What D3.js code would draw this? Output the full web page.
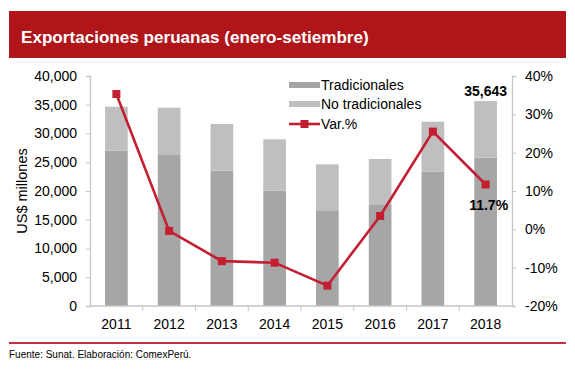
<!DOCTYPE html>
<html>
<head>
<meta charset="utf-8">
<script src="https://cdn.jsdelivr.net/npm/d3@7"></script>
<style>
  body { margin: 0; background: #fff; }
  text { font-family: "Liberation Sans", Arial, sans-serif; }
</style>
</head>
<body>
<div id="chart"></div>
<script>
/* Data ************************************************************************/

var years = ['2011', '2012', '2013', '2014', '2015', '2016', '2017', '2018'],
    tradicionales = [27010, 26260, 23530, 20050, 16520, 17570, 23360, 25790],
    no_tradicionales = [7650, 8230, 8120, 8940, 8120, 8000, 8690, 9853],
    variacion = [35.3, -0.4, -8.3, -8.7, -14.7, 3.5, 25.5, 11.7],
    left_tics = [0, 5000, 10000, 15000, 20000, 25000, 30000, 35000, 40000],
    right_tics = [-20, -10, 0, 10, 20, 30, 40];

/* Layout **********************************************************************/

var width = 575, height = 370,
    margin = { top: 76, bottom: 64, left: 90, right: 63 },
    red = '#c41e32',
    axis_color = '#c6c6c6';

var svg = d3.select('#chart').append('svg')
    .attr('width', width)
    .attr('height', height);

// header band
svg.append('rect')
    .attr('x', 9).attr('y', 11)
    .attr('width', 557).attr('height', 47)
    .attr('fill', '#b01519');

svg.append('text')
    .attr('x', 21).attr('y', 43)
    .attr('fill', '#fff')
    .attr('font-size', 17.1)
    .attr('font-weight', 'bold')
    .text('Exportaciones peruanas (enero-setiembre)');

// scales
var x = d3.scaleBand()
        .domain(years)
        .range([margin.left, width - margin.right])
        .paddingInner(0.57)
        .paddingOuter(0.285),
    xb = d3.scaleBand()
        .domain(years)
        .range([margin.left, width - margin.right]),
    y = d3.scaleLinear()
        .domain([0, 40000])
        .range([height - margin.bottom, margin.top]),
    y2 = d3.scaleLinear()
        .domain([-20, 40])
        .range([height - margin.bottom, margin.top]);

// stacked bars
var stacks = years.map((yr, i) => ({ year: yr, t: tradicionales[i], n: no_tradicionales[i] }));

svg.append('g').selectAll('rect').data(stacks).enter()
    .append('rect')
    .attr('x', d => x(d.year))
    .attr('width', x.bandwidth())
    .attr('y', d => y(d.t))
    .attr('height', d => y(0) - y(d.t))
    .attr('fill', '#a6a6a6');

svg.append('g').selectAll('rect').data(stacks).enter()
    .append('rect')
    .attr('x', d => x(d.year))
    .attr('width', x.bandwidth())
    .attr('y', d => y(d.t + d.n))
    .attr('height', d => y(d.t) - y(d.t + d.n))
    .attr('fill', '#bfbfbf');

// axes
var fmt = d3.format(',');

var yaxis = svg.append('g')
    .attr('transform', `translate(${margin.left},0)`)
    .call(d3.axisLeft(y).tickValues(left_tics).tickFormat(fmt).tickSize(4).tickPadding(9));

var y2axis = svg.append('g')
    .attr('transform', `translate(${width - margin.right},0)`)
    .call(d3.axisRight(y2).tickValues(right_tics).tickFormat(d => d + '%').tickSize(4).tickPadding(9));

var xaxis = svg.append('g')
    .attr('transform', `translate(0,${y(0)})`)
    .call(d3.axisBottom(xb).tickSize(0).tickPadding(13));

// tick marks between categories on the x axis
xaxis.selectAll('line.sep').data(years.slice(1)).enter()
    .append('line')
    .attr('class', 'sep')
    .attr('x1', d => xb(d)).attr('x2', d => xb(d))
    .attr('y1', 0).attr('y2', 5)
    .attr('stroke', axis_color);

[yaxis, y2axis, xaxis].forEach(g => {
    g.selectAll('path.domain').attr('stroke', axis_color).attr('stroke-width', 1.3);
    g.selectAll('.tick line').attr('stroke', axis_color);
    g.selectAll('text')
        .attr('font-size', 14)
        .attr('fill', '#000')
        .attr('font-family', '"Liberation Sans", Arial, sans-serif');
});
// x axis domain without the end caps
xaxis.select('path.domain')
    .attr('d', `M${margin.left},0H${width - margin.right}`);

// y label
svg.append('text')
    .attr('transform', `translate(27,${(y(0) + y(40000)) / 2}) rotate(-90)`)
    .attr('text-anchor', 'middle')
    .attr('font-size', 14.5)
    .text('US$ millones');

// line series ///////////////////////////////////////////////////////////
var pts = years.map((yr, i) => [xb(yr) + xb.bandwidth() / 2, y2(variacion[i])]);

svg.append('path')
    .attr('d', d3.line()(pts))
    .attr('fill', 'none')
    .attr('stroke', red)
    .attr('stroke-width', 2.6);

svg.append('g').selectAll('rect').data(pts).enter()
    .append('rect')
    .attr('x', d => d[0] - 4)
    .attr('y', d => d[1] - 4)
    .attr('width', 8).attr('height', 8)
    .attr('fill', red);

// data labels
var last = years.length - 1;
svg.append('text')
    .attr('x', xb(years[last]) + xb.bandwidth() / 2)
    .attr('y', y(tradicionales[last] + no_tradicionales[last]) - 5)
    .attr('text-anchor', 'middle')
    .attr('font-size', 14)
    .attr('font-weight', 'bold')
    .text(fmt(tradicionales[last] + no_tradicionales[last]));

svg.append('text')
    .attr('x', xb(years[last]) + xb.bandwidth() / 2 + 3)
    .attr('y', y2(variacion[last]) + 26)
    .attr('text-anchor', 'middle')
    .attr('font-size', 14)
    .attr('font-weight', 'bold')
    .text(variacion[last].toFixed(1) + '%');

// legend ////////////////////////////////////////////////////////////////
var legend = svg.append('g').attr('transform', 'translate(289,0)');
var legend_items = [
    { label: 'Tradicionales', color: '#a6a6a6', y: 85, kind: 'bar' },
    { label: 'No tradicionales', color: '#bfbfbf', y: 104, kind: 'bar' },
    { label: 'Var.%', color: red, y: 124, kind: 'line' }
];

legend_items.forEach(it => {
    if (it.kind === 'bar') {
        legend.append('rect')
            .attr('x', 0).attr('y', it.y - 3)
            .attr('width', 31).attr('height', 6)
            .attr('fill', it.color);
    } else {
        legend.append('line')
            .attr('x1', 0).attr('x2', 31)
            .attr('y1', it.y).attr('y2', it.y)
            .attr('stroke', it.color).attr('stroke-width', 2.6);
        legend.append('rect')
            .attr('x', 11.5).attr('y', it.y - 4)
            .attr('width', 8).attr('height', 8)
            .attr('fill', it.color);
    }
    legend.append('text')
        .attr('x', 32).attr('y', it.y + 5)
        .attr('font-size', 14)
        .text(it.label);
});

// footer
svg.append('line')
    .attr('x1', 9).attr('x2', 566)
    .attr('y1', 343).attr('y2', 343)
    .attr('stroke', '#c8303f').attr('stroke-width', 2);

svg.append('text')
    .attr('x', 9).attr('y', 358)
    .attr('font-size', 10)
    .text('Fuente: Sunat. Elaboración: ComexPerú.');
</script>
</body>
</html>
